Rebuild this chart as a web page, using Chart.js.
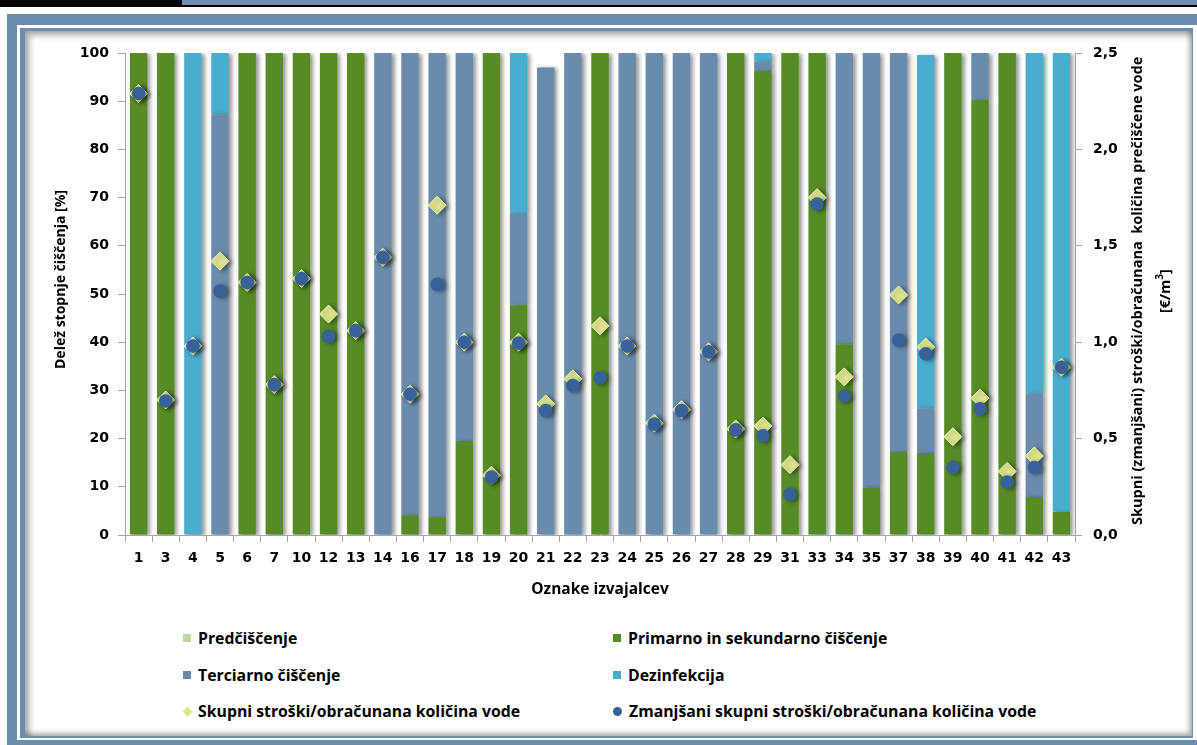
<!DOCTYPE html>
<html lang="sl">
<head>
    <meta charset="UTF-8">
    <title>Delež stopnje čiščenja in stroški</title>
    <script src="https://cdn.jsdelivr.net/npm/chart.js"></script>
    <style>
        body { margin: 0; width: 1197px; height: 745px; position: relative; overflow: hidden; background: #fff; font-family: 'Open Sans', sans-serif; }
        .abs { position: absolute; }
        #chart-wrap { position: absolute; left: 0; top: 0; width: 1197px; height: 605px; }
        .vtitle {
            position: absolute; writing-mode: vertical-rl; transform: rotate(180deg);
            text-align: center; font: bold 14px 'Open Sans', sans-serif; color: #000;
        }
        #left-title { left: 49px; top: 180px; height: 200px; width: 22px; line-height: 22px; }
        #right-title { left: 1125px; top: 50px; height: 482px; width: 46px; line-height: 23px; font-size: 14.5px; }
        #legend { position: absolute; left: 0; top: 0; font: bold 15.8px 'Open Sans', sans-serif; color: #000; }
        .item { position: absolute; white-space: nowrap; display: flex; align-items: center; }
        .mk { display: inline-block; width: 8px; height: 8px; margin-right: 7px; }
    </style>
</head>
<body>
    <div class="abs" style="left:0;top:0;width:182px;height:7px;background:#000"></div>
    <div class="abs" style="left:182px;top:0;width:1015px;height:5px;background:#6b8eb0"></div>
    <div class="abs" style="left:182px;top:5px;width:1015px;height:2px;background:#000"></div>
    <div class="abs" style="left:7px;top:14px;width:1190px;height:731px;background:#6b8eb0"></div>
    <div class="abs" style="left:17px;top:25px;width:1180px;height:715px;background:#fff"></div>
    <div class="abs" style="left:20px;top:28px;width:1173px;height:710px;background:#6b8eb0"></div>
    <div class="abs" style="left:25px;top:31px;width:1167px;height:705px;background:#fff;box-shadow:inset 4px 4px 6px rgba(0,0,0,0.35), inset -3px -3px 5px rgba(0,0,0,0.3)"></div>

    <div id="chart-wrap"><canvas id="chart"></canvas></div>
    <div id="left-title" class="vtitle">Delež stopnje čiščenja [%]</div>
    <div id="right-title" class="vtitle">Skupni (zmanjšani) stroški/obračunana&nbsp; količina prečiščene vode<br>[€/m<sup style="font-size:10px">3</sup>]</div>
    <div id="legend"></div>

    <script>
        // categories
        const labels = ['1', '3', '4', '5', '6', '7', '10', '12', '13', '14', '16', '17', '18', '19', '20', '21', '22', '23',
            '24', '25', '26', '27', '28', '29', '31', '33', '34', '35', '37', '38', '39', '40', '41', '42', '43'];

        // shares of treatment stage [%]
        const predciscenje = [0, 0, 0, 0, 0, 0, 0, 0, 0, 0, 0, 0, 0, 0, 0, 0, 0, 0, 0, 0, 0, 0, 0, 0, 0, 0, 0, 0, 0, 0, 0, 0, 0, 0, 0];
        const primarno = [100, 100, 0, 0, 100, 100, 100, 100, 100, 0, 4.1, 3.7, 19.5, 100, 47.5, 0, 0, 100,
            0, 0, 0, 0, 100, 96.3, 100, 100, 39.6, 9.9, 17.2, 17.0, 100, 90.3, 100, 7.9, 4.8];
        const terciarno = [0, 0, 0, 87.3, 0, 0, 0, 0, 0, 100, 95.9, 96.3, 80.5, 0, 19.1, 97, 100, 0,
            100, 100, 100, 100, 0, 1.9, 0, 0, 60.4, 90.1, 82.8, 9.3, 0, 9.7, 0, 21.4, 0];
        const dezinfekcija = [0, 0, 100, 12.7, 0, 0, 0, 0, 0, 0, 0, 0, 0, 0, 33.4, 0, 0, 0,
            0, 0, 0, 0, 0, 1.8, 0, 0, 0, 0, 0, 73.3, 0, 0, 0, 70.7, 95.2];

        // costs per billed quantity of water [€/m3]
        const skupniStroski = [2.29, 0.70, 0.98, 1.42, 1.31, 0.78, 1.33, 1.146, 1.06, 1.44, 0.73, 1.71, 1.0, 0.31, 1.0, 0.68, 0.81, 1.085,
            0.98, 0.58, 0.65, 0.95, 0.55, 0.565, 0.365, 1.75, 0.82, null, 1.245, 0.975, 0.51, 0.71, 0.33, 0.41, 0.87];
        const zmanjsaniStroski = [2.29, 0.695, 0.98, 1.265, 1.31, 0.78, 1.33, 1.03, 1.06, 1.44, 0.73, 1.30, 1.0, 0.30, 0.995, 0.645, 0.775, 0.815,
            0.98, 0.575, 0.645, 0.95, 0.545, 0.515, 0.21, 1.717, 0.72, null, 1.01, 0.94, 0.35, 0.655, 0.275, 0.35, 0.87];

        const leftTicks = [0, 10, 20, 30, 40, 50, 60, 70, 80, 90, 100];
        const rightTicks = ['0,0', '0,5', '1,0', '1,5', '2,0', '2,5'];

        const tickFont = { family: 'DejaVu Sans', weight: 'bold', size: 14 };

        // drop shadow like the original office chart
        const shadowPlugin = {
            id: 'shadow',
            beforeDatasetDraw(chart) {
                const c = chart.ctx;
                c.save();
                c.shadowColor = 'rgba(0,0,0,0.4)';
                c.shadowBlur = 4;
                c.shadowOffsetX = 3;
                c.shadowOffsetY = 1;
            },
            afterDatasetDraw(chart) {
                chart.ctx.restore();
            }
        };

        const bar = (label, data, color) => ({
            type: 'bar', label, data, backgroundColor: color, stack: 's', yAxisID: 'y', order: 2,
            barPercentage: 0.64, categoryPercentage: 1
        });

        const chart = new Chart(document.getElementById('chart'), {
            type: 'bar',
            data: {
                labels: labels,
                datasets: [
                    bar('Predčiščenje', predciscenje, '#c3d69b'),
                    bar('Primarno in sekundarno čiščenje', primarno, '#568b25'),
                    bar('Terciarno čiščenje', terciarno, '#6a8cac'),
                    bar('Dezinfekcija', dezinfekcija, '#4bacce'),
                    {
                        type: 'line', label: 'Skupni stroški/obračunana količina vode', data: skupniStroski,
                        yAxisID: 'y2', showLine: false, order: 1,
                        pointStyle: 'rectRot', pointRadius: 9, pointBackgroundColor: '#dde48c',
                        pointBorderColor: '#eef2b8', pointBorderWidth: 1, borderColor: '#dde48c', backgroundColor: '#dde48c'
                    },
                    {
                        type: 'line', label: 'Zmanjšani skupni stroški/obračunana količina vode', data: zmanjsaniStroski,
                        yAxisID: 'y2', showLine: false, order: 0,
                        pointStyle: 'circle', pointRadius: 6.8, pointBackgroundColor: '#386297',
                        pointBorderWidth: 0, borderColor: '#386297', backgroundColor: '#386297'
                    }
                ]
            },
            options: {
                responsive: true,
                maintainAspectRatio: false,
                animation: false,
                layout: { padding: { top: 53, left: 0, right: 0, bottom: 0 } },
                plugins: { legend: { display: false }, tooltip: { enabled: false } },
                scales: {
                    x: {
                        stacked: true,
                        afterFit: s => { s.height = 70; },
                        grid: { display: true, drawOnChartArea: false, offset: true, tickLength: 7, tickColor: '#a6a6a6' },
                        border: { color: '#a6a6a6' },
                        ticks: { font: tickFont, color: '#000', padding: 8, maxRotation: 0, autoSkip: false },
                        title: { display: true, text: 'Oznake izvajalcev', color: '#000', font: { family: 'Open Sans', weight: 'bold', size: 15.5 }, padding: 6 }
                    },
                    y: {
                        stacked: true,
                        position: 'left',
                        min: 0, max: 100,
                        afterFit: s => { s.width = 125; },
                        afterBuildTicks: s => { s.ticks = leftTicks.map(v => ({ value: v })); },
                        grid: { drawOnChartArea: false, tickLength: 7, tickColor: '#a6a6a6' },
                        border: { color: '#a6a6a6' },
                        ticks: { font: tickFont, color: '#000', padding: 9 }
                    },
                    y2: {
                        position: 'right',
                        min: 0, max: 2.5,
                        afterFit: s => { s.width = 122; },
                        afterBuildTicks: s => { s.ticks = rightTicks.map(t => ({ value: parseFloat(t.replace(',', '.')) })); },
                        grid: { drawOnChartArea: false, tickLength: 7, tickColor: '#a6a6a6' },
                        border: { color: '#a6a6a6' },
                        ticks: { font: tickFont, color: '#000', padding: 11, callback: (v, i) => rightTicks[i] }
                    }
                }
            },
            plugins: [shadowPlugin]
        });

        // legend in two columns, built from the chart datasets
        const legend = document.getElementById('legend');
        const cols = [183, 613];
        const rows = [638, 675, 711];
        chart.data.datasets.forEach((ds, i) => {
            const item = document.createElement('div');
            item.className = 'item';
            item.style.left = cols[i % 2] + 'px';
            item.style.top = (rows[Math.floor(i / 2)] - 11) + 'px';
            item.style.height = '22px';
            const mk = document.createElement('span');
            mk.className = 'mk';
            if (ds.type === 'bar') {
                mk.style.background = ds.backgroundColor;
            } else if (ds.pointStyle === 'rectRot') {
                mk.style.background = ds.pointBackgroundColor;
                mk.style.width = '7px'; mk.style.height = '7px';
                mk.style.transform = 'rotate(45deg)';
                mk.style.marginLeft = '1px';
            } else {
                mk.style.background = ds.pointBackgroundColor;
                mk.style.borderRadius = '50%';
                mk.style.width = '9px'; mk.style.height = '9px';
            }
            item.appendChild(mk);
            item.appendChild(document.createTextNode(ds.label));
            legend.appendChild(item);
        });
    </script>
</body>
</html>
